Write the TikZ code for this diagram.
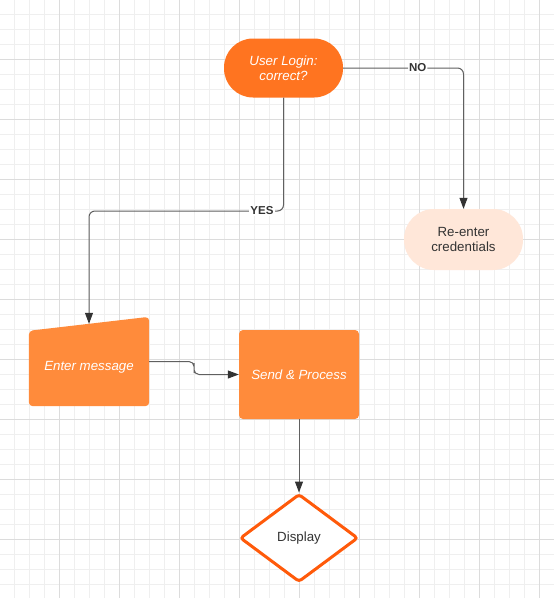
\documentclass[tikz,border=0pt]{standalone}
\usepackage{fontspec}
\setmainfont{Liberation Sans}
\usepackage{tikz}
\usetikzlibrary{arrows.meta, shapes.geometric, calc}

\definecolor{gridminor}{HTML}{EFEFEF}
\definecolor{gridmajor}{HTML}{DCDCDC}
\definecolor{loginorange}{HTML}{FF7420}
\definecolor{boxorange}{HTML}{FF8B3B}
\definecolor{peach}{HTML}{FFE7D9}
\definecolor{diamondedge}{HTML}{FF5A0A}
\definecolor{linegray}{HTML}{606060}
\definecolor{textgray}{HTML}{333333}

\begin{document}
\begin{tikzpicture}[x=1pt, y=-1pt,
    flow/.style={draw=linegray, line width=1pt, rounded corners=6pt, -{Triangle[length=11pt,width=8pt,color=textgray]}},
    flowlabel/.style={fill=white, inner sep=1pt, text=textgray, font=\fontsize{11.5}{13}\selectfont\bfseries},
    boxtext/.style={text=white, align=center, font=\fontsize{13.3}{15.5}\selectfont\itshape},
    startbox/.style={boxtext, fill=loginorange, rounded corners=29pt, minimum width=119pt, minimum height=59pt},
    endbox/.style={fill=peach, rounded corners=30pt, minimum width=119pt, minimum height=61pt, align=center, text=textgray, font=\fontsize{13.3}{15.5}\selectfont},
    procbox/.style={boxtext, fill=boxorange, rounded corners=4pt, minimum width=120pt, minimum height=89pt},
    showbox/.style={diamond, aspect=1.34, draw=diamondedge, line width=3pt, fill=white, rounded corners=3pt, minimum width=118pt, minimum height=88pt, inner sep=0pt, text=textgray, font=\fontsize{13.3}{15.5}\selectfont}
  ]
    \useasboundingbox (0,0) rectangle (554,598);
    \fill[white] (0,0) rectangle (554,598);

    % grid paper
    \foreach \i in {0,...,39} {
        \draw[gridminor, line width=1pt] (14.5+15*\i,0) -- (14.5+15*\i,598);
        \draw[gridminor, line width=1pt] (0,14.5+15*\i) -- (554,14.5+15*\i);
    }
    \foreach \i in {0,...,9} {
        \draw[gridmajor, line width=1pt] (59.5+60*\i,0) -- (59.5+60*\i,598);
        \draw[gridmajor, line width=1pt] (0,59.5+60*\i) -- (554,59.5+60*\i);
    }

    \node[startbox] (login) at (283.5,68) {User Login:\\correct?};
    \node[endbox] (reenter) at (463.5,239.5) {Re-enter\\credentials};

    % manual input shape
    \node[minimum width=120pt, minimum height=89pt, inner sep=0pt] (em) at (89,361.5) {};
    \fill[boxorange, rounded corners=4pt] (em.south west) -- ([yshift=-14pt]em.north west) -- (em.north east) -- (em.south east) -- cycle;
    \node[boxtext] (emtext) at ([yshift=-6pt]em.center) {Enter message};
    \coordinate (emtop) at ([yshift=-7pt]em.north);

    \node[procbox] (send) at (299,374.5) {Send \& Process};
    \node[showbox] (disp) at (299,538) {Display};

    \coordinate (yesbend) at (89,211);
    \draw[flow] (login.east) -| node[flowlabel, pos=0.31] (no) {NO} (reenter.north);
    \draw[flow] (login.south) |- (yesbend) -- (emtop);
    \node[flowlabel] (yes) at (262,211) {YES};
    \draw[flow, rounded corners=5pt] (em.east) -| ($(em.east)!0.5!(send.west)$) |- (send.west);
    \draw[flow] (send.south) -- (disp.north);

\end{tikzpicture}
\end{document}
